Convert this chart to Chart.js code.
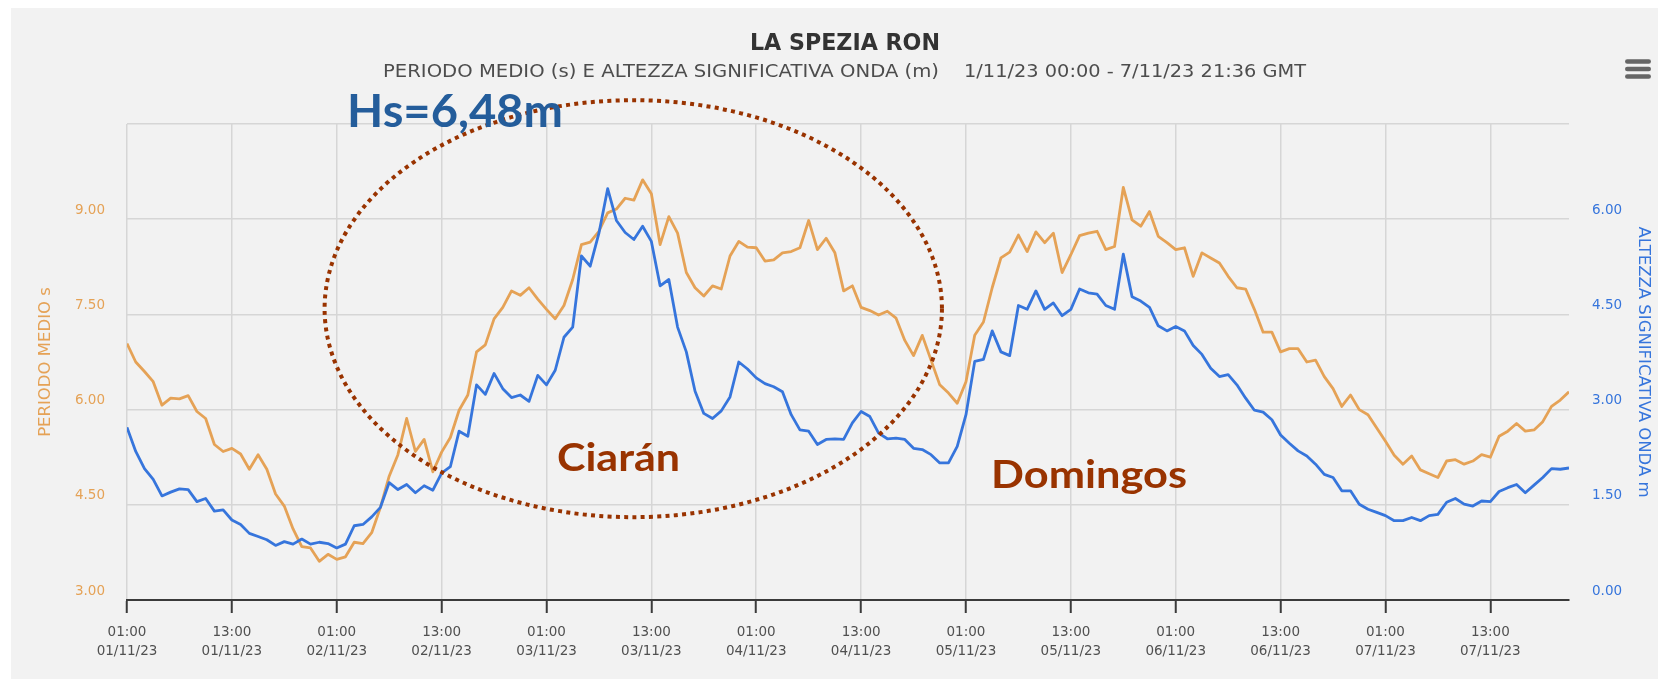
<!DOCTYPE html>
<html>
<head>
<meta charset="utf-8">
<style>
  body { margin: 0; background: #fff; overflow: hidden; }
  .panel { position: absolute; left: 11px; top: 8px; right: 0; bottom: 0; background: #f2f2f2; }
  .chart-container { position: absolute; left: 0; top: 0; width: 1658px; height: 679px; }
</style>
</head>
<body>
<div class="panel"></div>
<div class="chart-container"><canvas id="myChart" width="1658" height="679"></canvas></div>
<script src="https://cdn.jsdelivr.net/npm/chart.js@4.4.0/dist/chart.umd.min.js"></script>
<script>
/* hourly readings, hour 0 = 01:00 01/11/23 */
const periodo = [
  7.04, 6.75, 6.60, 6.44, 6.07, 6.18, 6.17, 6.22, 5.97, 5.86, 5.45, 5.34,
  5.39, 5.30, 5.06, 5.29, 5.06, 4.67, 4.48, 4.12, 3.84, 3.82, 3.61, 3.72,
  3.64, 3.68, 3.91, 3.89, 4.06, 4.46, 4.95, 5.29, 5.86, 5.34, 5.53, 5.02,
  5.33, 5.56, 5.99, 6.23, 6.91, 7.02, 7.43, 7.61, 7.87, 7.80, 7.92, 7.74,
  7.58, 7.43, 7.64, 8.05, 8.60, 8.64, 8.81, 9.10, 9.16, 9.33, 9.30, 9.62,
  9.40, 8.60, 9.04, 8.78, 8.16, 7.92, 7.79, 7.95, 7.90, 8.42, 8.65, 8.56,
  8.55, 8.34, 8.36, 8.47, 8.49, 8.55, 8.98, 8.52, 8.70, 8.47, 7.87, 7.95,
  7.61, 7.56, 7.49, 7.55, 7.44, 7.09, 6.85, 7.17, 6.78, 6.39, 6.26, 6.10,
  6.44, 7.17, 7.38, 7.92, 8.39, 8.48, 8.75, 8.49, 8.80, 8.63, 8.78, 8.16,
  8.44, 8.74, 8.78, 8.81, 8.52, 8.57, 9.50, 8.99, 8.89, 9.12, 8.73, 8.63,
  8.52, 8.55, 8.10, 8.47, 8.39, 8.31, 8.10, 7.92, 7.90, 7.58, 7.22, 7.22,
  6.91, 6.96, 6.96, 6.75, 6.78, 6.52, 6.33, 6.05, 6.23, 6.00, 5.92, 5.71,
  5.50, 5.28, 5.14, 5.27, 5.05, 4.99, 4.93, 5.19, 5.21, 5.14, 5.19, 5.29,
  5.25, 5.58, 5.66, 5.78, 5.66, 5.68, 5.81, 6.05, 6.15, 6.28
];
const altezza = [
  2.72, 2.34, 2.07, 1.90, 1.64, 1.70, 1.75, 1.74, 1.55, 1.60, 1.40, 1.42,
  1.26, 1.19, 1.05, 1.00, 0.95, 0.86, 0.92, 0.88, 0.96, 0.88, 0.91, 0.89,
  0.82, 0.88, 1.17, 1.19, 1.31, 1.46, 1.85, 1.74, 1.82, 1.69, 1.80, 1.73,
  2.00, 2.10, 2.66, 2.58, 3.39, 3.24, 3.57, 3.33, 3.19, 3.23, 3.13, 3.54,
  3.39, 3.62, 4.14, 4.30, 5.42, 5.26, 5.78, 6.48, 5.98, 5.79, 5.68, 5.89,
  5.65, 4.95, 5.05, 4.30, 3.91, 3.29, 2.94, 2.86, 2.98, 3.20, 3.75, 3.64,
  3.50, 3.41, 3.36, 3.28, 2.92, 2.68, 2.66, 2.45, 2.53, 2.54, 2.53, 2.79,
  2.97, 2.89, 2.63, 2.54, 2.55, 2.53, 2.39, 2.37, 2.29, 2.16, 2.16, 2.42,
  2.92, 3.76, 3.79, 4.24, 3.91, 3.85, 4.64, 4.58, 4.87, 4.58, 4.68, 4.48,
  4.58, 4.90, 4.84, 4.82, 4.64, 4.58, 5.45, 4.78, 4.71, 4.61, 4.32, 4.24,
  4.31, 4.24, 4.01, 3.87, 3.65, 3.52, 3.55, 3.39, 3.18, 2.99, 2.96, 2.84,
  2.60, 2.47, 2.35, 2.27, 2.14, 1.98, 1.93, 1.72, 1.72, 1.51, 1.43, 1.38,
  1.33, 1.25, 1.25, 1.30, 1.25, 1.33, 1.35, 1.54, 1.60, 1.51, 1.48, 1.56,
  1.55, 1.71, 1.77, 1.82, 1.69, 1.81, 1.93, 2.07, 2.06, 2.08
];
const hours = periodo.map((v, i) => i);

/* x axis ticks every 12 hours */
const tickHours = [0, 12, 24, 36, 48, 60, 72, 84, 96, 108, 120, 132, 144, 156];
const tickTimes = ['01:00', '13:00', '01:00', '13:00', '01:00', '13:00', '01:00',
                   '13:00', '01:00', '13:00', '01:00', '13:00', '01:00', '13:00'];
const tickDates = ['01/11/23', '01/11/23', '02/11/23', '02/11/23', '03/11/23', '03/11/23', '04/11/23',
                   '04/11/23', '05/11/23', '05/11/23', '06/11/23', '06/11/23', '07/11/23', '07/11/23'];

const ORANGE = '#e5a256';
const BLUE = '#3675dc';
const GRID = '#d6d6d6';
const BROWN = '#993300';

// draw text squeezed/stretched to a given width
function fitText(ctx, text, font, color, x, baseline, width, align) {
  ctx.save();
  ctx.font = font;
  ctx.fillStyle = color;
  ctx.textAlign = 'left';
  ctx.textBaseline = 'alphabetic';
  const w = ctx.measureText(text).width;
  const left = align === 'center' ? x - width / 2 : (align === 'right' ? x - width : x);
  ctx.translate(left, baseline);
  ctx.scale(width / w, 1);
  ctx.fillText(text, 0, 0);
  ctx.restore();
}

const overlay = {
  id: 'overlay',
  afterDraw(chart) {
    const ctx = chart.ctx;
    const xs = chart.scales.x, ys = chart.scales.y;

    // titles
    fitText(ctx, 'LA SPEZIA RON', 'bold 23px "DejaVu Sans"', '#333333', 845, 50, 190, 'center');
    fitText(ctx, 'PERIODO MEDIO (s) E ALTEZZA SIGNIFICATIVA ONDA (m)', '17.5px "DejaVu Sans"', '#4d4d4d', 383, 77, 556, 'left');
    fitText(ctx, '1/11/23 00:00 - 7/11/23 21:36 GMT', '17.5px "DejaVu Sans"', '#4d4d4d', 964, 77, 342, 'left');

    // menu icon
    ctx.save();
    ctx.fillStyle = '#666666';
    [61.5, 69, 76.5].forEach(yy => {
      ctx.beginPath();
      ctx.roundRect(1625, yy - 2.25, 26, 4.5, 2.25);
      ctx.fill();
    });
    ctx.restore();

    // dotted ellipse round the storm
    const cx = xs.getPixelForValue(57.93), cy = ys.getPixelForValue(7.59);
    const rx = xs.getPixelForValue(57.93 + 35.32) - cx;
    const ry = cy - ys.getPixelForValue(7.59 + 3.285);
    ctx.save();
    ctx.strokeStyle = BROWN;
    ctx.lineWidth = 4;
    ctx.setLineDash([4, 4.3]);
    ctx.beginPath();
    ctx.ellipse(cx, cy, rx, ry, 0, 0, Math.PI * 2);
    ctx.stroke();
    ctx.restore();

    // notes
    fitText(ctx, 'Hs=6,48m', 'bold 45px Lato', '#245d9b', 347, 127, 216, 'left');
    fitText(ctx, 'Ciarán', 'bold 39px Lato', BROWN, 557, 471, 123, 'left');
    fitText(ctx, 'Domingos', 'bold 39px Lato', BROWN, 991, 488, 196, 'left');
  }
};

const myChart = new Chart('myChart', {
  type: 'line',
  data: {
    datasets: [
      {
        label: 'ALTEZZA SIGNIFICATIVA ONDA m',
        yAxisID: 'y1',
        data: altezza.map((v, i) => ({ x: hours[i], y: v })),
        borderColor: BLUE,
        borderWidth: 2.8,
        borderJoinStyle: 'round',
        pointRadius: 0,
        tension: 0,
        order: 0
      },
      {
        label: 'PERIODO MEDIO s',
        yAxisID: 'y',
        data: periodo.map((v, i) => ({ x: hours[i], y: v })),
        borderColor: ORANGE,
        borderWidth: 2.8,
        borderJoinStyle: 'round',
        pointRadius: 0,
        tension: 0,
        order: 1
      }
    ]
  },
  options: {
    responsive: false,
    animation: false,
    layout: { padding: { top: 124, left: 0, right: 0, bottom: 0 } },
    plugins: {
      legend: { display: false },
      tooltip: { enabled: false }
    },
    scales: {
      x: {
        type: 'linear',
        min: 0,
        max: 165,
        afterBuildTicks: s => { s.ticks = tickHours.map(v => ({ value: v })); },
        afterFit: s => { s.height = 79; },
        grid: { color: GRID, lineWidth: 1.5, tickColor: '#3a3a3a', tickLength: 13, tickWidth: 2 },
        border: { color: '#3a3a3a', width: 2 },
        ticks: {
          padding: 10,
          color: '#505050',
          maxRotation: 0,
          autoSkip: false,
          font: { family: 'DejaVu Sans', size: 13.5, lineHeight: 1.4 },
          callback: (v, i) => [tickTimes[i], tickDates[i]]
        }
      },
      y: {
        position: 'left',
        min: 3,
        max: 10.5,
        afterFit: s => { s.width = 127; },
        grid: {
          drawTicks: false,
          lineWidth: 1.5,
          color: c => (c.tick && c.tick.value === 3) ? 'rgba(0,0,0,0)' : GRID
        },
        border: { display: false },
        ticks: {
          stepSize: 1.5,
          padding: 22,
          labelOffset: -9,
          color: ORANGE,
          font: { family: 'DejaVu Sans', size: 13.5 },
          callback: v => v === 10.5 ? '' : v.toFixed(2)
        },
        title: {
          display: true,
          text: 'PERIODO MEDIO s',
          color: ORANGE,
          font: { family: 'DejaVu Sans', size: 16.5 },
          padding: { top: 36, bottom: 0 }
        }
      },
      y1: {
        position: 'right',
        min: 0,
        max: 7.5,
        afterFit: s => { s.width = 89; },
        grid: { display: false, drawTicks: false },
        border: { display: false },
        ticks: {
          stepSize: 1.5,
          padding: 23,
          labelOffset: -9,
          color: BLUE,
          font: { family: 'DejaVu Sans', size: 13.5 },
          callback: v => v === 7.5 ? '' : v.toFixed(2)
        },
        title: {
          display: true,
          text: 'ALTEZZA SIGNIFICATIVA ONDA m',
          color: BLUE,
          font: { family: 'DejaVu Sans', size: 16.5 },
          padding: { top: 5, bottom: 0 }
        }
      }
    }
  },
  plugins: [overlay]
});
</script>
</body>
</html>
